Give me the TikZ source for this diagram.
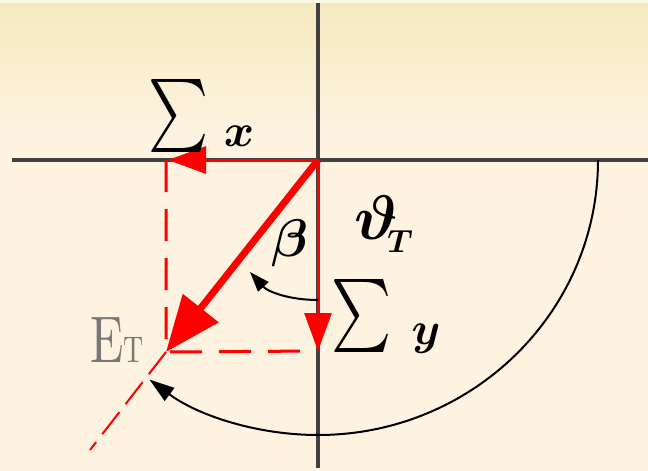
\documentclass[tikz,border=0pt]{standalone}
\usepackage{amsmath,amssymb}
\usepackage{graphicx}
\usetikzlibrary{arrows.meta,positioning}
\definecolor{paper}{RGB}{253,243,224}
\definecolor{papertop}{RGB}{245,234,190}
\definecolor{axisgray}{RGB}{64,64,64}
\definecolor{etgray}{RGB}{120,120,120}

\begin{document}
\begin{tikzpicture}[x=1pt,y=-1pt,
  axis/.style={draw=axisgray,line width=3.5pt},
  comp/.style={draw=red,line width=3pt,-{Triangle[length=38pt,width=27pt]}},
  proj/.style={draw=red,line width=3pt,dash pattern=on 32pt off 17pt},
  field/.style={draw=red,line width=7pt,-{Triangle[length=56pt,width=44pt]}},
  turn/.style={draw=black,line width=2pt},
  lbl/.style={inner sep=0pt}]
  % paper
  \useasboundingbox (0,0) rectangle (648,471);
  \fill[paper] (0,0) rectangle (648,471);
  \shade[top color=papertop,bottom color=paper] (0,3) rectangle (648,130);
  \fill[white!60!papertop] (0,0) rectangle (648,3);
  % axes
  \coordinate (O) at (318,160);
  \draw[axis] (12,160) -- (648,160);
  \draw[axis] (318,3) -- (318,468);
  % components and field
  \coordinate (Sx) at (168,160);
  \coordinate (Sy) at (318,351);
  \coordinate (Et) at (166,352);
  \coordinate (tail) at (90,450);
  \draw[proj] (166,160) -- (Et) -- (Sy);
  \draw[red,line width=2pt,dash pattern=on 28pt off 10pt] (Et) -- (tail);
  \draw[comp] (O) -- (Sx);
  \draw[comp] (O) -- (Sy);
  \draw[field] (O) -- (Et);
  % angle arrows
  \coordinate (b1) at (318,300);
  \coordinate (b2) at (250,272);
  \draw[turn,-{Triangle[length=20pt,width=14pt]}] (b1) .. controls (290,300) and (268,292) .. (b2);
  \draw[turn,-{Triangle[length=25pt,width=16pt]}] (598,160)
    arc[start angle=0,end angle=127,x radius=280,y radius=275];
  % labels
  \node[lbl] (sumx) at (179,116) {\scalebox{5.7}[7.3]{$\sum$}};
  \node[lbl] (subx) at (239,136) {\scalebox{4.6}{$\boldsymbol{x}$}};
  \node[lbl] (sumy) at (362,316) {\scalebox{5.7}[7.3]{$\sum$}};
  \node[lbl] (suby) at (426,339) {\scalebox{4.6}{$\boldsymbol{y}$}};
  \node[lbl] (beta) at (290,243) {\scalebox{5.3}{$\boldsymbol{\beta}$}};
  \node[lbl] (theta) at (376,218) {\scalebox{6.3}{$\boldsymbol{\vartheta}$}};
  \node[lbl] (thetasub) at (400,242) {\scalebox{3.2}{$\boldsymbol{T}$}};
  \node[lbl,anchor=base west,text=etgray] (etlbl) at (90,362)
    {\scalebox{4.9}[6.6]{E}\scalebox{2.8}[3.7]{T}};
\end{tikzpicture}
\end{document}
